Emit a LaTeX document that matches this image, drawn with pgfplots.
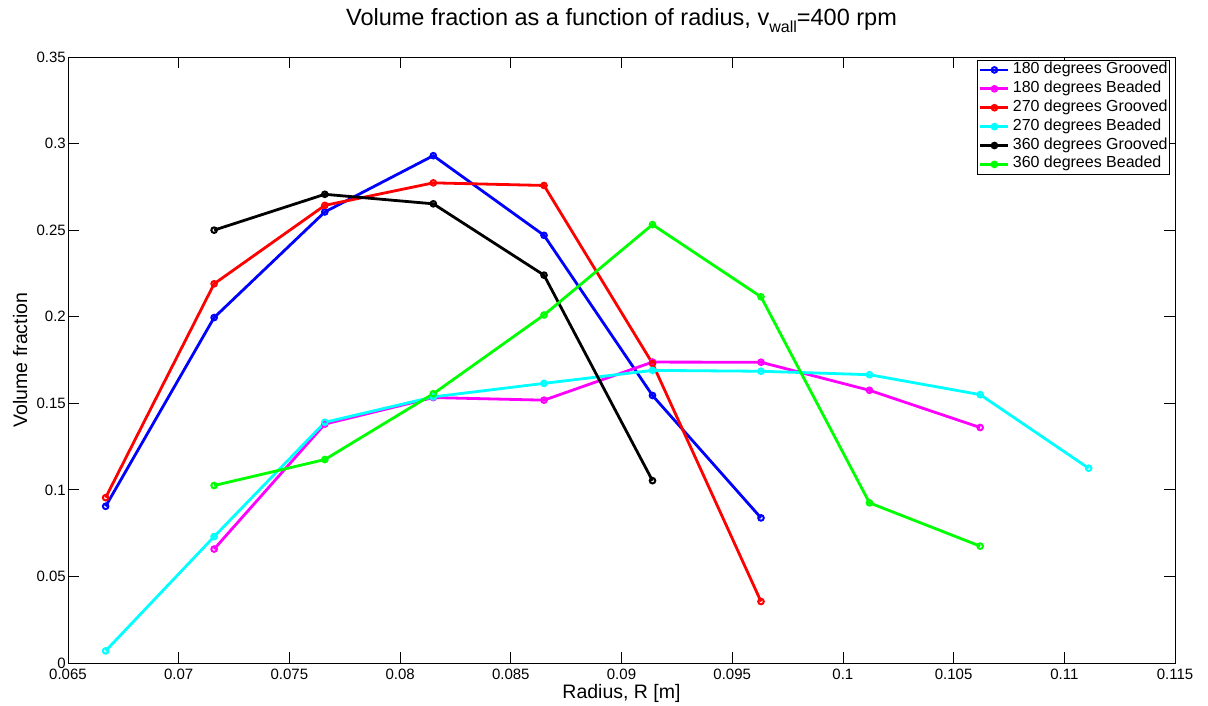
\documentclass[border=0pt]{standalone}
\usepackage{fontspec}
\setmainfont{Liberation Sans}
\usepackage{pgfplots}
\pgfplotsset{compat=1.18}
\definecolor{mblue}{rgb}{0,0,1}
\definecolor{mmag}{rgb}{1,0,1}
\definecolor{mred}{rgb}{1,0,0}
\definecolor{mcyan}{rgb}{0,1,1}
\definecolor{mgreen}{rgb}{0,1,0}
\begin{document}
\begin{tikzpicture}
\begin{axis}[
  at={(0,0)}, anchor=south west,
  scale only axis, width=1107bp, height=606bp,
  xmin=0.065, xmax=0.115, ymin=0, ymax=0.35,
  scaled ticks=false,
  xtick={0.065,0.07,0.075,0.08,0.085,0.09,0.095,0.1,0.105,0.11,0.115},
  xticklabels={0.065,0.07,0.075,0.08,0.085,0.09,0.095,0.1,0.105,0.11,0.115},
  ytick={0,0.05,0.1,0.15,0.2,0.25,0.3,0.35},
  yticklabels={0,0.05,0.1,0.15,0.2,0.25,0.3,0.35},
  /pgf/number format/assume math mode=true,
  tick align=inside, tick pos=both, ticklabel pos=left,
  major tick length=11bp,
  axis line style={line width=0.8bp},
  every tick/.style={black, line width=0.8bp},
  tick label style={font=\fontsize{15bp}{18bp}\selectfont},
  xticklabel style={anchor=north, inner sep=0pt, yshift=-6bp},
  yticklabel style={anchor=east, inner sep=0pt, xshift=-2bp},
  xlabel={Radius, R [m]}, ylabel={Volume fraction},
  label style={font=\fontsize{19.5bp}{23bp}\selectfont},
  xlabel style={at={(axis description cs:0.5,-0.0578)}, anchor=base},
  ylabel style={at={(axis description cs:-0.037,0.5)}, anchor=base},
  title={Volume fraction as a function of radius, v\raisebox{-7bp}{\fontsize{16bp}{16bp}\selectfont wall}=400 rpm},
  title style={font=\fontsize{23.5bp}{28bp}\selectfont, at={(axis description cs:0.5,1)}, anchor=base, yshift=26bp},
  legend cell align=left,
  legend style={at={(0.9955,0.995)}, anchor=north east, draw=black, line width=0.8bp,
    font=\fontsize{16bp}{18bp}\selectfont, inner xsep=2bp, inner ysep=2bp,
    row sep=3.9bp, column sep=3bp,
    nodes={inner sep=0pt, text height=11bp, text depth=4bp}},
  legend image code/.code={\draw[mark repeat=2, mark phase=2, #1] plot coordinates {(0bp,0bp) (14bp,0bp) (28bp,0bp)};},
  every axis plot/.append style={line width=2.8bp, mark=o, mark size=2.8bp, mark options={solid, line width=2bp}},
]
\addplot[mblue] coordinates {(0.0667,0.0905)(0.0716,0.1995)(0.0766,0.2605)(0.0815,0.2930)(0.0865,0.2470)(0.0914,0.1545)(0.0963,0.0838)};
\addlegendentry{180 degrees Grooved}
\addplot[mmag] coordinates {(0.0716,0.0658)(0.0766,0.1380)(0.0815,0.1533)(0.0865,0.1518)(0.0914,0.1738)(0.0963,0.1737)(0.1012,0.1575)(0.1062,0.1360)};
\addlegendentry{180 degrees Beaded}
\addplot[mred] coordinates {(0.0667,0.0955)(0.0716,0.2190)(0.0766,0.2643)(0.0815,0.2773)(0.0865,0.2758)(0.0914,0.1730)(0.0963,0.0355)};
\addlegendentry{270 degrees Grooved}
\addplot[mcyan] coordinates {(0.0667,0.0070)(0.0716,0.0730)(0.0766,0.1390)(0.0815,0.1537)(0.0865,0.1615)(0.0914,0.1690)(0.0963,0.1685)(0.1012,0.1665)(0.1062,0.1550)(0.1111,0.1125)};
\addlegendentry{270 degrees Beaded}
\addplot[black] coordinates {(0.0716,0.2500)(0.0766,0.2707)(0.0815,0.2652)(0.0865,0.2240)(0.0914,0.1053)};
\addlegendentry{360 degrees Grooved}
\addplot[mgreen] coordinates {(0.0716,0.1025)(0.0766,0.1175)(0.0815,0.1555)(0.0865,0.2010)(0.0914,0.2532)(0.0963,0.2115)(0.1012,0.0925)(0.1062,0.0675)};
\addlegendentry{360 degrees Beaded}
\end{axis}
\path (-68bp,-41bp) rectangle (1140bp,663bp);
\end{tikzpicture}
\end{document}
